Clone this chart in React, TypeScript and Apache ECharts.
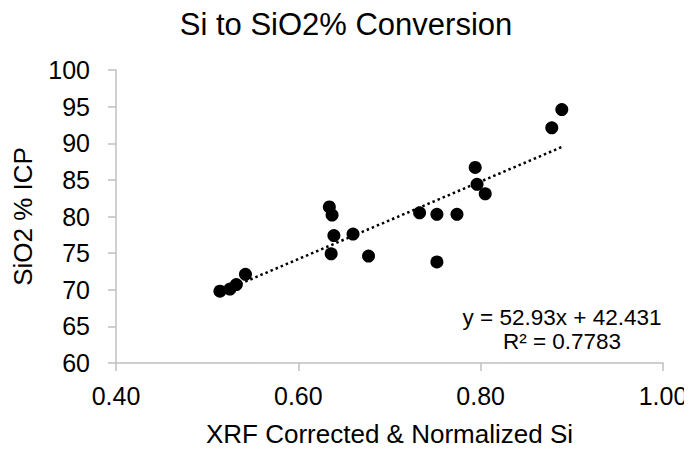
import React, { useEffect, useRef } from "react";
import * as echarts from "echarts";

// XRF corrected & normalized Si vs. SiO2 % measured by ICP
const siXrf = [
  0.514, 0.525, 0.532, 0.542, 0.634, 0.637, 0.639, 0.636, 0.66, 0.677,
  0.733, 0.752, 0.774, 0.752, 0.794, 0.796, 0.805, 0.878, 0.889,
];
const sio2Icp = [
  69.8, 70.1, 70.7, 72.1, 81.3, 80.2, 77.4, 74.9, 77.6, 74.6,
  80.5, 80.3, 80.3, 73.8, 86.7, 84.4, 83.1, 92.1, 94.6,
];

// Linear fit reported on the chart
const slope = 52.93;
const intercept = 42.431;
const rSquared = "0.7783";

const xTicks = [0.4, 0.6, 0.8, 1.0];
const yTicks = [60, 65, 70, 75, 80, 85, 90, 95, 100];

const FONT = "'Liberation Sans', Arial, sans-serif";

export default function App() {
  const ref = useRef<HTMLDivElement>(null);

  useEffect(() => {
    if (!ref.current) return;
    const chart = echarts.init(ref.current, null, { renderer: "svg" });

    const points = siXrf.map((x, i) => [x, sio2Icp[i]]);
    const xMin = Math.min(...siXrf);
    const xMax = Math.max(...siXrf);
    const trend = [
      [xMin, slope * xMin + intercept],
      [xMax, slope * xMax + intercept],
    ];

    chart.setOption({
      animation: false,
      backgroundColor: "#ffffff",
      title: {
        text: "Si to SiO2% Conversion",
        left: "center",
        top: 4,
        textStyle: {
          fontFamily: FONT,
          fontSize: 31,
          fontWeight: "normal",
          color: "#000000",
        },
      },
      grid: { left: 116, right: 29, top: 70, bottom: 84 },
      xAxis: {
        type: "value",
        min: xTicks[0],
        max: xTicks[xTicks.length - 1],
        interval: 0.2,
        name: "XRF Corrected & Normalized Si",
        nameLocation: "middle",
        nameGap: 58,
        nameTextStyle: { fontFamily: FONT, fontSize: 26, color: "#000000" },
        axisLine: { show: true, lineStyle: { color: "#bfbfbf", width: 1.5 } },
        axisTick: { show: true, inside: false, length: 8, lineStyle: { color: "#bfbfbf", width: 1.5 } },
        splitLine: { show: false },
        axisLabel: {
          fontFamily: FONT,
          fontSize: 25,
          color: "#000000",
          margin: 20,
          formatter: (v: number) => v.toFixed(2),
        },
      },
      yAxis: {
        type: "value",
        min: yTicks[0],
        max: yTicks[yTicks.length - 1],
        interval: 5,
        name: "SiO2 % ICP",
        nameLocation: "middle",
        nameGap: 80,
        nameTextStyle: { fontFamily: FONT, fontSize: 26, color: "#000000" },
        axisLine: { show: true, lineStyle: { color: "#bfbfbf", width: 1.5 } },
        axisTick: { show: true, inside: false, length: 8, lineStyle: { color: "#bfbfbf", width: 1.5 } },
        splitLine: { show: false },
        axisLabel: {
          fontFamily: FONT,
          fontSize: 25,
          color: "#000000",
          margin: 26,
        },
      },
      series: [
        {
          type: "line",
          data: trend,
          symbol: "none",
          silent: true,
          lineStyle: { color: "#000000", width: 2.5, type: [2.5, 3] },
          z: 1,
        },
        {
          type: "scatter",
          data: points,
          symbol: "circle",
          symbolSize: 13,
          itemStyle: { color: "#000000", opacity: 1 },
          z: 2,
        },
      ],
      graphic: [
        {
          type: "text",
          x: 562,
          y: 317,
          style: {
            text: `y = ${slope}x + ${intercept}`,
            fontFamily: FONT,
            fontSize: 22.5,
            fill: "#000000",
            align: "center",
            verticalAlign: "middle",
          },
        },
        {
          type: "text",
          x: 562,
          y: 341,
          style: {
            text: `R² = ${rSquared}`,
            fontFamily: FONT,
            fontSize: 22.5,
            fill: "#000000",
            align: "center",
            verticalAlign: "middle",
          },
        },
      ],
    });

    return () => chart.dispose();
  }, []);

  return <div ref={ref} style={{ width: 692, height: 452, margin: -8 }} />;
}
